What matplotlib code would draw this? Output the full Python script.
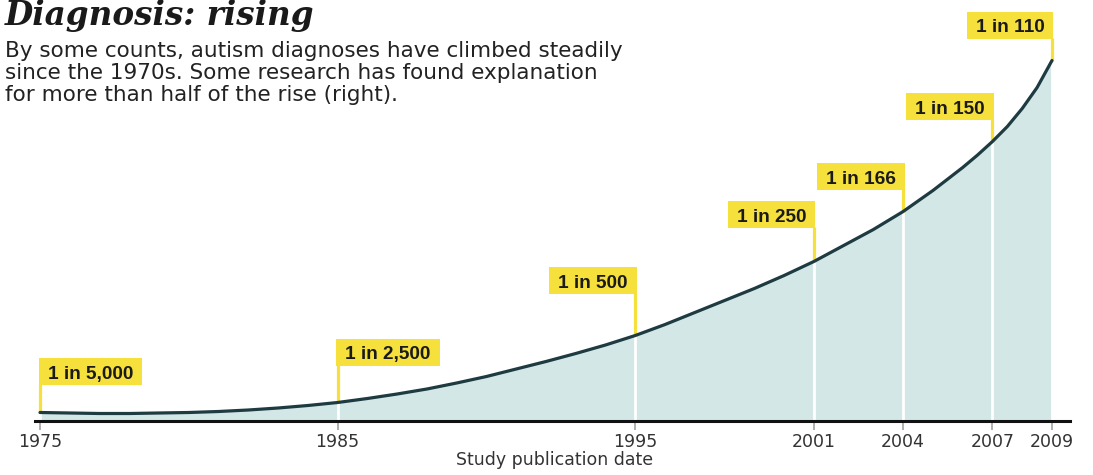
import matplotlib
matplotlib.use("Agg")
import matplotlib.pyplot as plt
from matplotlib.patches import Rectangle

# ---------------- data ----------------
study_years = [1975, 1985, 1995, 2001, 2004, 2007, 2009]
rate_labels = ["1 in 5,000", "1 in 2,500", "1 in 500", "1 in 250",
               "1 in 166", "1 in 150", "1 in 110"]
# stylised curve height (relative units)
curve_years = [1975, 1976, 1977, 1978, 1979, 1980, 1981, 1982, 1983, 1984,
               1985, 1986, 1987, 1988, 1989, 1990, 1991, 1992, 1993, 1994,
               1995, 1996, 1997, 1998, 1999, 2000, 2001, 2002, 2003, 2004,
               2005, 2006, 2006.5, 2007, 2007.5, 2008, 2008.5, 2009]
curve_height = [8, 7.5, 7, 7, 7.5, 8, 9, 10.5, 12.5, 15,
                18, 22, 26.5, 31.5, 37.5, 44, 51.5, 59, 67, 75.5,
                85, 96, 108, 120, 132, 145, 159, 175, 191, 209,
                230, 253, 265.5, 279, 294, 312, 333, 360]
tick_labels = [str(y) for y in study_years]

title = "Diagnosis: rising"
subtitle = ["By some counts, autism diagnoses have climbed steadily",
            "since the 1970s. Some research has found explanation",
            "for more than half of the rise (right)."]
xlabel = "Study publication date"

# ---------------- layout / style ----------------
W, H = 1093, 475
box_bottom = [35.5, 54.5, 126.5, 192.5, 230.5, 300.5, 381.5]
box_side = ["left", "left", "right", "right", "right", "right", "right"]
BOX_H = 27
PAD = 9
YELLOW = "#f6e03c"
FILL = "#d4e7e7"
LINE = "#1e3b41"

fig = plt.figure(figsize=(W / 100, H / 100), dpi=100)
fig.patch.set_facecolor("white")
ax = fig.add_axes([35 / W, 54.5 / H, 1035 / W, 420 / H])
ax.set_facecolor("none")
xmin, xmax = 1974.832, 2009.605
ax.set_xlim(xmin, xmax)
ax.set_ylim(0, 420)
ppy = 1035 / (xmax - xmin)  # pixels per year

ax.fill_between(curve_years, 0, curve_height, color=FILL, lw=0, zorder=1)
ax.plot(curve_years, curve_height, color=LINE, lw=2.3, zorder=3,
        solid_capstyle="round", solid_joinstyle="round")

hmap = dict(zip(curve_years, curve_height))
for yr, bb in zip(study_years, box_bottom):
    ch = hmap[yr]
    ax.plot([yr, yr], [0, ch], color="white", lw=2.0, zorder=2)
    ax.plot([yr, yr], [ch, bb + 1], color=YELLOW, lw=2.3, zorder=2.5,
            solid_capstyle="butt")

fig.canvas.draw()
r = fig.canvas.get_renderer()
for yr, lab, bb, side in zip(study_years, rate_labels, box_bottom, box_side):
    t = ax.text(0, 0, lab, fontsize=13.7, fontweight="bold",
                family=["Liberation Sans", "DejaVu Sans"], color="#1a1a1a",
                ha="center", va="center_baseline", zorder=6)
    wpx = t.get_window_extent(r).width + 2 * PAD
    wyr = wpx / ppy
    if side == "left":
        x0 = yr - 1.5 / ppy
    else:
        x0 = yr + 1.5 / ppy - wyr
    ax.add_patch(Rectangle((x0, bb), wyr, BOX_H, facecolor=YELLOW,
                           edgecolor="none", zorder=5))
    t.set_position((x0 + wyr / 2, bb + BOX_H / 2 - 0.5))

for s in ["top", "left", "right"]:
    ax.spines[s].set_visible(False)
ax.spines["bottom"].set_linewidth(2.2)
ax.spines["bottom"].set_color("#111111")
ax.spines["bottom"].set_zorder(7)
ax.set_yticks([])
ax.set_xticks(study_years)
ax.set_xticklabels(tick_labels)
ax.tick_params(axis="x", length=6.5, width=1.1, color="#9a9a9a", pad=2.5,
               labelsize=12.5, labelcolor="#333333")
for lbl in ax.get_xticklabels():
    lbl.set_family("DejaVu Sans")

fig.text(5 / W, 1 - 24.5 / H, title, fontsize=23.5, fontweight="bold",
         fontstyle="italic", family="DejaVu Serif", color="#1a1a1a",
         ha="left", va="baseline")
for i, line in enumerate(subtitle):
    fig.text(5 / W, 1 - (57.3 + 21.7 * i) / H, line, fontsize=15.5,
             family="DejaVu Sans", color="#222222", ha="left", va="baseline")
fig.text(555 / W, 1 - 465 / H, xlabel, fontsize=12.5, family="DejaVu Sans",
         color="#333333", ha="center", va="baseline")

fig.savefig("out.png", dpi=100, facecolor="white")
